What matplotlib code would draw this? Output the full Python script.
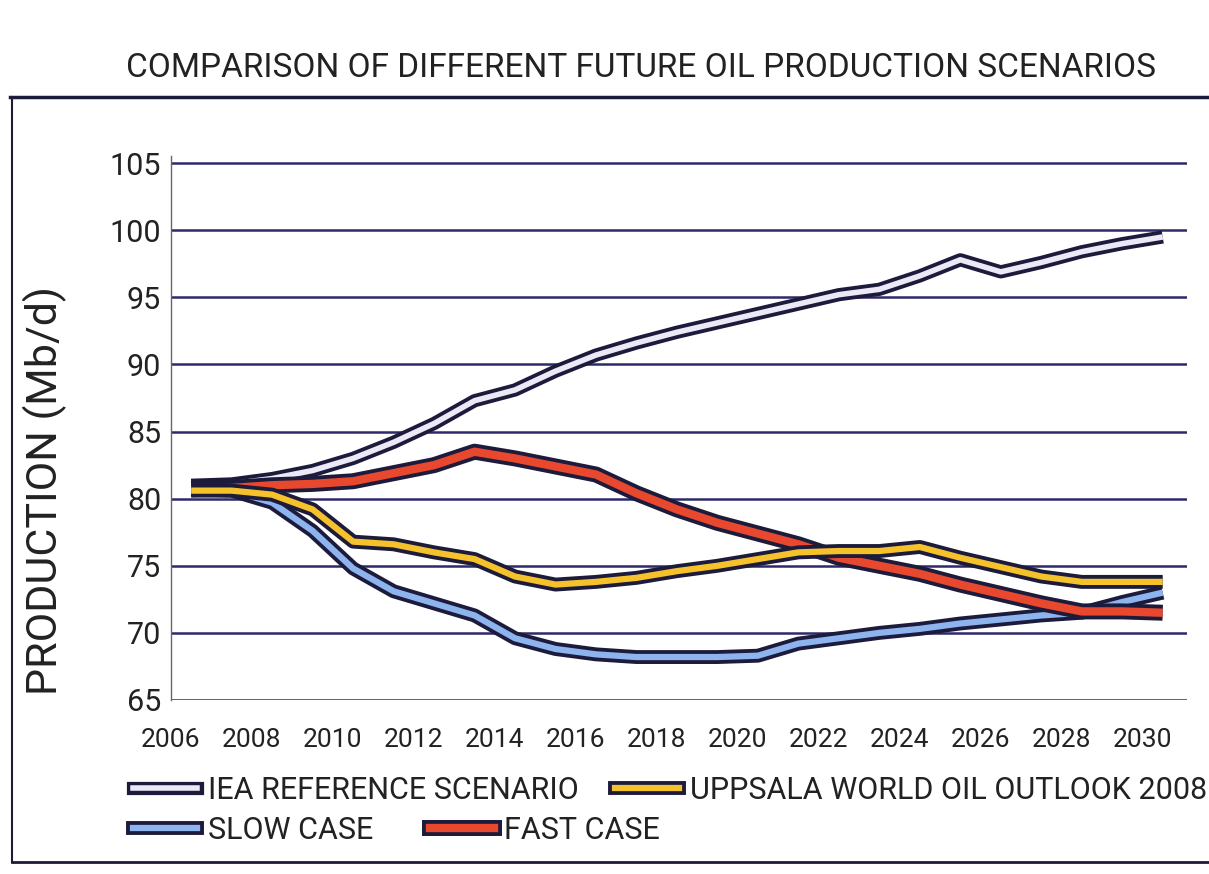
import matplotlib
matplotlib.use('Agg')
import matplotlib.pyplot as plt
from matplotlib.lines import Line2D

# values (Mb/d)
years = list(range(2006, 2031))
iea = [81.0, 81.1, 81.5, 82.1, 83.0, 84.2, 85.6, 87.3, 88.1, 89.5, 90.7, 91.6, 92.4,
       93.1, 93.8, 94.5, 95.2, 95.6, 96.6, 97.8, 96.9, 97.6, 98.4, 99.0, 99.5]
uppsala = [80.6, 80.6, 80.3, 79.2, 76.8, 76.6, 76.0, 75.5, 74.2, 73.6, 73.8, 74.1, 74.6,
           75.0, 75.5, 76.0, 76.1, 76.1, 76.4, 75.6, 74.9, 74.2, 73.8, 73.8, 73.8]
slow = [80.7, 80.6, 79.7, 77.6, 74.8, 73.1, 72.2, 71.3, 69.6, 68.8, 68.4, 68.2, 68.2,
        68.2, 68.3, 69.2, 69.6, 70.0, 70.3, 70.7, 71.0, 71.3, 71.5, 72.3, 73.0]
fast = [80.7, 80.8, 81.0, 81.1, 81.3, 81.9, 82.5, 83.5, 83.0, 82.4, 81.8, 80.4, 79.2,
        78.2, 77.4, 76.6, 75.6, 75.0, 74.4, 73.6, 72.9, 72.2, 71.6, 71.6, 71.5]

yticks = [65, 70, 75, 80, 85, 90, 95, 100, 105]
xticks = list(range(2006, 2031, 2))

title = 'COMPARISON OF DIFFERENT FUTURE OIL PRODUCTION SCENARIOS'
ylabel = 'PRODUCTION (Mb/d)'

FONT = ['Roboto', 'DejaVu Sans']
INK = '#1c1b3c'
GRID = '#2e2a6a'
TXT = '#222222'

fig = plt.figure(figsize=(12.09, 8.74), dpi=100)
ax = fig.add_axes([0.1414, 0.1991, 0.8404, 0.6219])
ax.set_xlim(2006, 2031.1)
ax.set_ylim(65, 105.5)

# ruled lines
for y in yticks:
    ax.axhline(y, color=GRID, lw=1.8, zorder=1)

for s in ['top', 'right', 'bottom']:
    ax.spines[s].set_visible(False)
ax.spines['left'].set_color('#666666')
ax.spines['left'].set_linewidth(1.0)

# series: (name, values, centre colour, outline width, centre width)
series = [
    ('IEA REFERENCE SCENARIO', iea, '#ece8f6', 9.5, 4),
    ('SLOW CASE', slow, '#8db4ee', 10, 4.5),
    ('FAST CASE', fast, '#e8482e', 11.5, 6),
    ('UPPSALA WORLD OIL OUTLOOK 2008', uppsala, '#f6c22c', 10, 4.5),
]

xs = [y + 0.5 for y in years]
handles = {}
for i, (name, vals, col, wo, wi) in enumerate(series):
    ax.plot(xs, vals, color=INK, lw=wo, solid_capstyle='butt',
            solid_joinstyle='round', zorder=3 + 2 * i)
    ax.plot(xs, vals, color=col, lw=wi, solid_capstyle='butt',
            solid_joinstyle='round', zorder=4 + 2 * i)
    handles[name] = (Line2D([], [], color=INK, lw=wo), Line2D([], [], color=col, lw=wi))

ax.set_xticks(xticks)
ax.set_yticks(yticks)
ax.tick_params(axis='both', length=0, colors=TXT)
ax.tick_params(axis='x', pad=20)
ax.tick_params(axis='y', pad=7)
for t in ax.get_xticklabels():
    t.set_family(FONT)
    t.set_fontsize(19)
for t in ax.get_yticklabels():
    t.set_family(FONT)
    t.set_fontsize(22)

fig.text(0.037, 0.439, ylabel, rotation=90, ha='center', va='center',
         family=FONT, fontsize=31, color=TXT)
fig.text(0.53, 0.922, title, ha='center', va='center',
         family=FONT, fontsize=24, color=TXT)

# outer frame
fig.add_artist(Line2D([0.008, 1.0], [0.889, 0.889], color=INK, lw=2.5))
fig.add_artist(Line2D([0.0099, 0.0099], [0.889, 0.0137], color=INK, lw=1.5))
fig.add_artist(Line2D([0.0099, 1.0], [0.0137, 0.0137], color=INK, lw=2.0))

# legend, two rows
row1 = ['IEA REFERENCE SCENARIO', 'UPPSALA WORLD OIL OUTLOOK 2008']
row2 = ['SLOW CASE', 'FAST CASE']
lg1 = fig.legend([handles[n] for n in row1], row1, loc='center left',
                 bbox_to_anchor=(0.110, 0.096), ncol=2, frameon=False,
                 borderpad=0, borderaxespad=0, handlelength=2.1,
                 handletextpad=0.35, columnspacing=1.2,
                 prop={'family': FONT, 'size': 22})
lg2 = fig.legend([handles[n] for n in row2], row2, loc='center left',
                 bbox_to_anchor=(0.110, 0.050), ncol=2, frameon=False,
                 borderpad=0, borderaxespad=0, handlelength=2.1,
                 handletextpad=0.35, columnspacing=1.85,
                 prop={'family': FONT, 'size': 22})
for lg in (lg1, lg2):
    for t in lg.get_texts():
        t.set_color(TXT)

fig.savefig('out.png', dpi=100)
